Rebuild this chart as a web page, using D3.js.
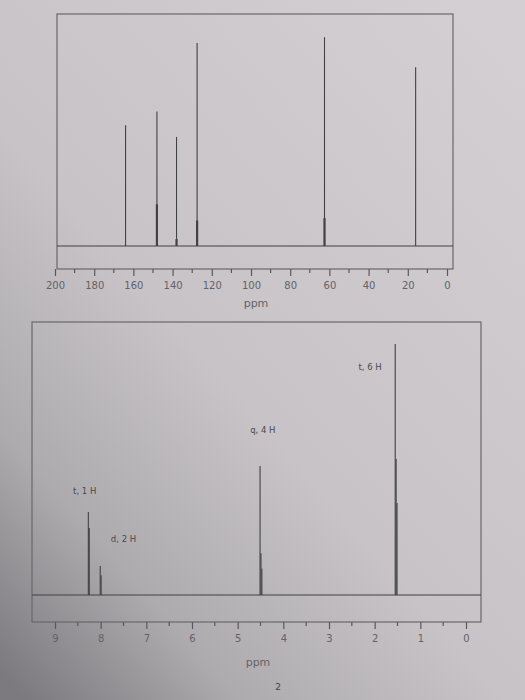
<!DOCTYPE html>
<html>
<head>
<meta charset="utf-8">
<script src="https://cdn.jsdelivr.net/npm/d3@7"></script>
<style>
  html, body { margin: 0; padding: 0; background: #c8c4c8; }
  svg { display: block; }
</style>
</head>
<body>
<div id="chart"></div>
<script>
// 13C spectrum: peak lines [ppm, intensity]
const carbonPeaks = [[164, 52], [148, 58], [138, 47], [127.5, 87.5], [62.5, 90], [16, 77]];
// thicker lower parts of the carbon peaks
const carbonStubs = [[148, 18], [138, 3], [127.5, 11], [62.5, 12]];
const carbonTicks = [200, 180, 160, 140, 120, 100, 80, 60, 40, 20, 0];

// 1H spectrum: multiplet lines [ppm, intensity]
const protonPeaks = [
  [8.27, 31.3], [8.25, 25.3],
  [8.01, 10.9], [7.99, 7.5],
  [4.51, 48.7], [4.49, 15.8], [4.47, 10],
  [1.55, 94.7], [1.53, 51.3], [1.51, 34.7]
];
const protonLabels = [
  { text: "t, 1 H", ppm: 8.35, h: 38 },
  { text: "d, 2 H", ppm: 7.5, h: 20 },
  { text: "q, 4 H", ppm: 4.45, h: 61 },
  { text: "t, 6 H", ppm: 2.1, h: 85 }
];
const protonTicks = [9, 8, 7, 6, 5, 4, 3, 2, 1, 0];

const W = 525, H = 700;
const ink = "#424145", textCol = "#646267";

const svg = d3.select("#chart").append("svg")
  .attr("width", W)
  .attr("height", H);

// paper lighting (photo is darker towards the bottom left)
const defs = svg.append("defs");
const grad = defs.append("linearGradient")
  .attr("id", "paper")
  .attr("x1", "0.9").attr("y1", "0")
  .attr("x2", "0.05").attr("y2", "1");
grad.append("stop").attr("offset", "0%").attr("stop-color", "#d3cfd3");
grad.append("stop").attr("offset", "55%").attr("stop-color", "#c7c3c7");
grad.append("stop").attr("offset", "80%").attr("stop-color", "#aeabaf");
grad.append("stop").attr("offset", "100%").attr("stop-color", "#7c7a7e");
svg.append("rect").attr("width", W).attr("height", H).attr("fill", "url(#paper)");

function spectrum(cfg) {
  const g = svg.append("g");
  const x = d3.scaleLinear().domain(cfg.domain).range(cfg.xRange);
  const y = d3.scaleLinear().domain([0, 100]).range([cfg.baseY, cfg.topY]);

  // frame
  g.append("rect")
    .attr("x", cfg.frame[0]).attr("y", cfg.frame[1])
    .attr("width", cfg.frame[2] - cfg.frame[0])
    .attr("height", cfg.frame[3] - cfg.frame[1])
    .attr("fill", "none")
    .attr("stroke", "#6a686d")
    .attr("stroke-width", 1.2);

  // baseline
  g.append("line")
    .attr("x1", cfg.frame[0]).attr("x2", cfg.frame[2])
    .attr("y1", y(0)).attr("y2", y(0))
    .attr("stroke", ink).attr("stroke-width", 1.1);

  // peaks
  g.selectAll(".peak").data(cfg.peaks).enter().append("line")
    .attr("class", "peak")
    .attr("x1", d => x(d[0])).attr("x2", d => x(d[0]))
    .attr("y1", y(0)).attr("y2", d => y(d[1]))
    .attr("stroke", ink).attr("stroke-width", 1.1);

  if (cfg.stubs) {
    g.selectAll(".stub").data(cfg.stubs).enter().append("line")
      .attr("class", "stub")
      .attr("x1", d => x(d[0])).attr("x2", d => x(d[0]))
      .attr("y1", y(0)).attr("y2", d => y(d[1]))
      .attr("stroke", ink).attr("stroke-width", 2.2);
  }

  // axis
  const axis = d3.axisBottom(x)
    .tickValues(cfg.ticks)
    .tickSize(7)
    .tickPadding(6)
    .tickFormat(d3.format("d"));
  const ax = g.append("g")
    .attr("transform", `translate(0,${cfg.frame[3]})`)
    .call(axis);
  ax.select(".domain").remove();
  ax.selectAll(".tick line").attr("stroke", "#5a585d").attr("stroke-width", 1.2);
  ax.selectAll(".tick text")
    .attr("fill", textCol)
    .style("font-family", "DejaVu Sans, sans-serif")
    .style("font-size", "10px");

  // minor ticks
  g.selectAll(".minor").data(cfg.minor).enter().append("line")
    .attr("class", "minor")
    .attr("x1", d => x(d)).attr("x2", d => x(d))
    .attr("y1", cfg.frame[3]).attr("y2", cfg.frame[3] + 4)
    .attr("stroke", "#5a585d").attr("stroke-width", 1.2);

  g.append("text")
    .attr("x", cfg.ppmPos[0]).attr("y", cfg.ppmPos[1])
    .attr("text-anchor", "middle")
    .attr("fill", textCol)
    .style("font-family", "DejaVu Sans, sans-serif")
    .style("font-size", "11px")
    .text("ppm");

  return { x, y, g };
}

// 13C chart
spectrum({
  domain: [200, 0], xRange: [55, 447],
  baseY: 246, topY: 14,
  frame: [57, 14, 453, 269],
  peaks: carbonPeaks, stubs: carbonStubs,
  ticks: carbonTicks,
  minor: d3.range(10, 200, 20),
  ppmPos: [256, 307]
});

// 1H chart
const h1 = spectrum({
  domain: [9, 0], xRange: [55, 466],
  baseY: 595, topY: 330,
  frame: [32, 322, 481, 622],
  peaks: protonPeaks,
  ticks: protonTicks,
  minor: d3.range(0.5, 9.5, 1),
  ppmPos: [258, 666]
});

h1.g.selectAll(".mult").data(protonLabels).enter().append("text")
  .attr("class", "mult")
  .attr("x", d => h1.x(d.ppm))
  .attr("y", d => h1.y(d.h))
  .attr("text-anchor", "middle")
  .attr("fill", "#4a494d")
  .style("font-family", "DejaVu Sans, sans-serif")
  .style("font-size", "8.5px")
  .text(d => d.text);

svg.append("text")
  .attr("x", 278).attr("y", 690)
  .attr("text-anchor", "middle")
  .attr("fill", "#444")
  .style("font-family", "DejaVu Sans, sans-serif")
  .style("font-size", "9px")
  .text("2");
</script>
</body>
</html>
